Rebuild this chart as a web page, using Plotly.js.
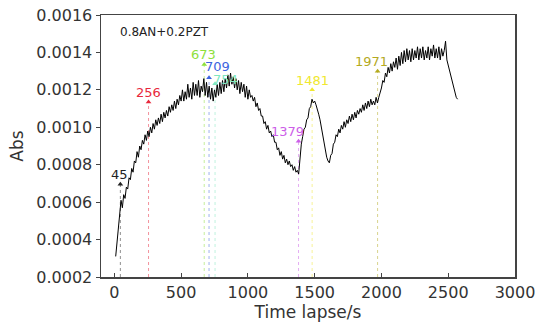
<!DOCTYPE html>
<html>
<head>
<meta charset="utf-8">
<script src="https://cdn.plot.ly/plotly-3.0.1.min.js"></script>
<style>html,body{margin:0;padding:0;background:#fff;}#chart{width:538px;height:323px;}</style>
</head>
<body>
<div id="chart"></div>
<script>
// Time (s)
const timeS = [
10,20,30,40,50,60,70,80,90,100,
110,120,130,140,150,160,170,180,190,200,
210,220,230,240,250,260,270,280,290,300,
310,320,330,340,350,360,370,380,390,400,
410,420,430,440,450,460,470,480,490,500,
510,520,530,540,550,560,570,580,590,600,
610,620,630,640,650,660,670,680,690,700,
710,720,730,740,750,760,770,780,790,800,
810,820,830,840,850,860,870,880,890,900,
910,920,930,940,950,960,970,980,990,1000,
1010,1020,1030,1040,1050,1060,1070,1080,1090,1100,
1110,1120,1130,1140,1150,1160,1170,1180,1190,1200,
1210,1220,1230,1240,1250,1260,1270,1280,1290,1300,
1310,1320,1330,1340,1350,1360,1370,1380,1390,1400,
1410,1420,1430,1440,1450,1460,1470,1480,1490,1500,
1510,1520,1530,1540,1550,1560,1570,1580,1590,1600,
1610,1620,1630,1640,1650,1660,1670,1680,1690,1700,
1710,1720,1730,1740,1750,1760,1770,1780,1790,1800,
1810,1820,1830,1840,1850,1860,1870,1880,1890,1900,
1910,1920,1930,1940,1950,1960,1970,1980,1990,2000,
2010,2020,2030,2040,2050,2060,2070,2080,2090,2100,
2110,2120,2130,2140,2150,2160,2170,2180,2190,2200,
2210,2220,2230,2240,2250,2260,2270,2280,2290,2300,
2310,2320,2330,2340,2350,2360,2370,2380,2390,2400,
2410,2420,2430,2440,2450,2460,2470,2480,2490,2500,
2510,2520,2530,2540,2550,2560,2570];
// Absorbance (x1e-5)
const absE5 = [
31,39,44,53,61,57,64,62,68,67,
73,72,78,76,82,81,87,84,90,88,
93,91,96,93,98,95,100,97,102,99,
104,101,105,102,107,103,108,105,109,106,
111,108,112,109,114,110,115,112,117,114,
120,114,119,115,123,116,121,115,124,117,
123,117,125,116,122,119,126,117,124,116,
122,115,121,114,120,116,123,117,124,118,
125,119,126,121,128,122,129,123,127,121,
126,120,125,118,124,119,123,116,122,115,
120,116,117,114,116,111,113,109,110,106,
106,102,103,99,101,97,98,95,96,92,
92,88,89,85,87,83,85,81,83,80,
82,79,80,77,79,76,77,75,84,91,
95,99,100,104,105,110,111,115,113,114,
112,110,107,104,100,95,91,87,84,82,
81,85,86,91,92,96,95,99,97,101,
99,103,100,104,102,106,103,107,104,108,
105,109,107,110,108,112,109,113,110,114,
111,115,112,114,112,116,113,116,118,121,
125,124,129,127,132,129,134,130,135,132,
137,131,138,133,140,134,141,135,142,136,
141,135,142,136,141,137,143,136,142,137,
143,136,141,137,143,136,142,138,144,137,
142,137,143,136,142,138,141,146,136,133,
131,127,125,121,119,116,115];
const absVal = absE5.map(v => v * 1e-5);

// Marked events
const markLabels = ['45','256','673','709','754','1379','1481','1971'];
const markTimes = [45,256,673,709,754,1379,1481,1971];
const markAbs = [0.000696,0.001135,0.001336,0.001265,0.001233,0.000925,0.00120,0.00130];
const markColors = ['#222222','#e8283c','#8ee03c','#3c64e0','#80e8c0','#cc5ee8','#f0e830','#b4aa1e'];
const labelDx = [-1,0,-1,8,10,-11,0,-6];
const labelDy = [0,0,0,2,-5,0,0,0];

const yBase = 0.0002;
const traces = [];
markTimes.forEach((t,i)=>{
  traces.push({x:[t,t],y:[yBase,markAbs[i]],mode:'lines',line:{color:markColors[i],width:1,dash:'dot'},opacity:0.5,hoverinfo:'skip',showlegend:false});
});
traces.push({x:timeS,y:absVal,mode:'lines',line:{color:'#000',width:1},showlegend:false});
traces.push({x:markTimes,y:markAbs,mode:'markers',marker:{symbol:'triangle-up',size:5,color:markColors},showlegend:false});

const annotations = markTimes.map((t,i)=>({
  x:t,y:markAbs[i],xref:'x',yref:'y',text:markLabels[i],showarrow:false,
  xanchor:'center',yanchor:'bottom',xshift:labelDx[i],yshift:labelDy[i],
  font:{family:'DejaVu Sans',size:13,color:markColors[i]}
}));
annotations.push({xref:'paper',yref:'paper',x:0.041,y:0.935,xanchor:'left',yanchor:'middle',showarrow:false,
  text:'0.8AN+0.2PZT',font:{family:'DejaVu Sans',size:12,color:'#222'}});

const layout = {
  width:538,height:323,
  margin:{l:101,r:23,t:15,b:46},
  paper_bgcolor:'#fff',plot_bgcolor:'#fff',
  showlegend:false,
  font:{family:'DejaVu Sans',color:'#333'},
  xaxis:{range:[-100,3000],tickvals:[0,500,1000,1500,2000,2500,3000],ticks:'inside',ticklen:4,tickcolor:'#444',
    showline:true,linecolor:'#444',linewidth:1.5,mirror:true,showgrid:false,zeroline:false,
    tickfont:{family:'DejaVu Sans',size:16,color:'#333'},
    title:{text:'Time lapse/s',font:{family:'DejaVu Sans',size:17,color:'#333'},standoff:4}},
  yaxis:{range:[0.0002,0.0016],dtick:0.0002,tick0:0.0002,tickformat:'.4f',ticks:'outside',ticklen:4,tickcolor:'#444',
    showline:true,linecolor:'#444',linewidth:1.5,mirror:true,showgrid:false,zeroline:false,
    tickfont:{family:'DejaVu Sans',size:16,color:'#333'},
    title:{text:'Abs',font:{family:'DejaVu Sans',size:17,color:'#333'},standoff:8}},
  annotations:annotations
};
Plotly.newPlot('chart',traces,layout,{displayModeBar:false,staticPlot:true});
</script>
</body>
</html>
